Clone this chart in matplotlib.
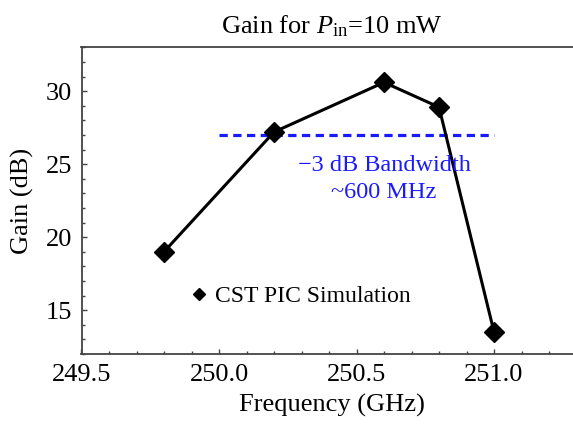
import matplotlib
matplotlib.use("Agg")
import matplotlib.pyplot as plt
from matplotlib.ticker import MultipleLocator
from matplotlib.lines import Line2D

plt.rcParams['font.family'] = ['Liberation Serif', 'DejaVu Serif']
plt.rcParams['mathtext.fontset'] = 'custom'
plt.rcParams['mathtext.rm'] = 'Liberation Serif'
plt.rcParams['mathtext.it'] = 'Liberation Serif:italic'

freq = [249.8, 250.2, 250.6, 250.8, 251.0]
gain = [19.0, 27.2, 30.6, 28.9, 13.5]
bw_x = [250.0, 251.0]
bw_y = [27.0, 27.0]

fig = plt.figure(figsize=(5.73, 4.28), dpi=100)
ax = fig.add_axes([81.5/573, 74/428, 500/573, 306.7/428])

ax.plot(bw_x, bw_y, color='#1a1aff', lw=2.3, linestyle=(0, (2.6, 1.7)), zorder=2)
ax.plot(freq, gain, color='black', lw=2.2, marker='D', markersize=10, zorder=3)

ax.set_xlim(249.5, 251.318)
ax.set_ylim(12, 33)
ax.xaxis.set_major_locator(MultipleLocator(0.5))
ax.xaxis.set_minor_locator(MultipleLocator(0.1))
ax.yaxis.set_major_locator(MultipleLocator(5))
ax.yaxis.set_minor_locator(MultipleLocator(1))
ax.xaxis.set_major_formatter(matplotlib.ticker.FormatStrFormatter('%.1f'))

for s in ax.spines.values():
    s.set_color('#444444')
    s.set_linewidth(1.3)

ax.tick_params(which='both', direction='in', top=False, right=False,
               color='#444444', labelsize=19)
ax.tick_params(which='major', length=3.5, width=1.0, pad=7)
ax.tick_params(which='minor', length=2.0, width=1.0)

ax.set_xlabel('Frequency (GHz)', fontsize=19, labelpad=6)
ax.set_ylabel('Gain (dB)', fontsize=19, labelpad=8)
ax.set_title(r'Gain for $P_{\rm in}$=10 mW', fontsize=19, pad=10)

ax.text(250.6, 24.0, '\u22123 dB Bandwidth\n~600 MHz', color='#1a1aff',
        fontsize=17.5, ha='center', va='center', linespacing=1.4)

handle = Line2D([], [], color='black', marker='D', linestyle='none', markersize=6.5)
ax.legend([handle], ['CST PIC Simulation'], loc='center left',
          bbox_to_anchor=(249.9, 15.95), bbox_transform=ax.transData,
          frameon=False, fontsize=17, handlelength=0.6, handletextpad=0.4,
          borderaxespad=0, borderpad=0)

fig.savefig('out.png', dpi=100)
